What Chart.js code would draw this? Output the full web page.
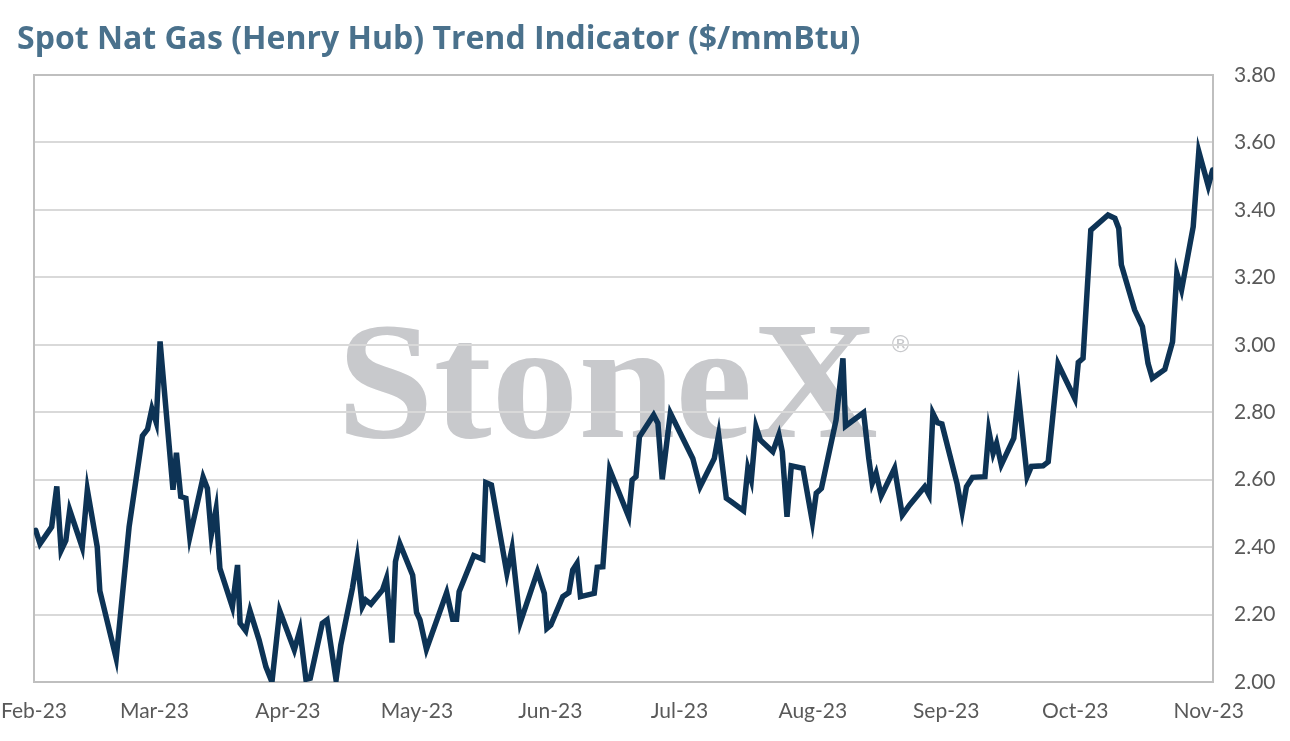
<!DOCTYPE html>
<html>
<head>
    <title>Spot Nat Gas (Henry Hub) Trend Indicator</title>
    <script src="https://cdn.jsdelivr.net/npm/chart.js"></script>
    <style>
        html, body {
            margin: 0;
            padding: 0;
            background-color: #fff;
        }

        #wrap {
            position: relative;
            width: 1290px;
            height: 741px;
        }

        h1 {
            position: absolute;
            left: 17px;
            top: 21px;
            margin: 0;
            font-family: "Open Sans", sans-serif;
            font-weight: bold;
            font-size: 32px;
            line-height: 31px;
            color: #4a718c;
            white-space: nowrap;
        }

        #gasChart {
            position: absolute;
            left: 0;
            top: 0;
        }
    </style>
</head>
<body>
    <div id="wrap">
        <canvas id="gasChart" width="1290" height="741"></canvas>
        <h1>Spot Nat Gas (Henry Hub) Trend Indicator ($/mmBtu)</h1>
    </div>

    <script>
        // days counted from 1 Feb 2023
        var dayOffsets = [
            0.4, 1.4, 4.1, 5.3, 6.3, 7.4, 8.3, 11.2, 12.4, 14.7,
            15.3, 19.1, 22.1, 25.2, 26.4, 27.4, 28.4, 29.3, 32.3, 33.1,
            34.1, 35.3, 36.2, 39.3, 40.3, 41.2, 42.3, 43.2, 46.1, 47.3,
            47.9, 49.2, 50.2, 52.3, 53.9, 55.3, 57.1, 60.5, 61.8, 63.2,
            64.2, 67.0, 68.1, 70.2, 71.3, 74.0, 75.1, 76.3, 77.1, 78.3,
            81.0, 81.9, 83.2, 84.0, 85.0, 88.0, 88.9, 89.7, 91.2, 95.9,
            97.3, 98.2, 98.8, 102.2, 104.3, 105.0, 106.3, 109.9, 111.1, 113.0,
            117.0, 118.6, 119.2, 120.1, 122.9, 124.3, 125.2, 126.2, 127.0, 130.2,
            130.9, 132.2, 133.8, 138.2, 139.0, 139.9, 140.7, 144.0, 145.0, 146.0,
            147.9, 153.1, 154.8, 158.1, 159.1, 160.9, 162.0, 164.9, 165.9, 166.7,
            167.8, 168.8, 171.7, 173.1, 173.9, 175.0, 176.0, 178.7, 180.9, 181.8,
            183.0, 186.4, 188.0, 188.6, 192.8, 194.0, 194.8, 195.7, 196.9, 200.0,
            201.8, 203.5, 207.0, 208.0, 208.9, 210.0, 211.0, 214.5, 215.7, 216.7,
            218.1, 221.0, 221.9, 222.9, 223.7, 224.8, 227.7, 228.8, 230.8, 231.8,
            234.5, 235.7, 238.0, 241.9, 242.7, 243.8, 245.6, 249.6, 251.2, 252.1,
            252.7, 255.8, 257.6, 258.9, 259.9, 262.8, 264.6, 265.6, 266.7, 269.4,
            270.7, 272.9, 273.9
        ];

        var prices = [
            2.45, 2.41, 2.46, 2.58, 2.39, 2.42, 2.51, 2.40, 2.57, 2.40,
            2.27, 2.07, 2.46, 2.73, 2.75, 2.81, 2.77, 3.01, 2.57, 2.68,
            2.55, 2.545, 2.43, 2.607, 2.574, 2.436, 2.512, 2.337, 2.223, 2.347,
            2.174, 2.152, 2.211, 2.125, 2.045, 2.00, 2.211, 2.095, 2.154, 2.008,
            2.011, 2.174, 2.184, 2.006, 2.110, 2.278, 2.365, 2.223, 2.243, 2.231,
            2.273, 2.307, 2.117, 2.357, 2.411, 2.317, 2.206, 2.184, 2.097, 2.265,
            2.186, 2.186, 2.268, 2.375, 2.364, 2.591, 2.584, 2.322, 2.396, 2.176,
            2.327, 2.263, 2.159, 2.169, 2.253, 2.265, 2.332, 2.352, 2.253, 2.263,
            2.340, 2.342, 2.63, 2.490, 2.599, 2.609, 2.727, 2.792, 2.767, 2.601,
            2.797, 2.663, 2.579, 2.663, 2.733, 2.545, 2.535, 2.508, 2.634, 2.599,
            2.757, 2.718, 2.683, 2.733, 2.683, 2.490, 2.641, 2.634, 2.475, 2.560,
            2.574, 2.777, 2.960, 2.759, 2.799, 2.663, 2.589, 2.619, 2.552, 2.634,
            2.495, 2.525, 2.579, 2.555, 2.797, 2.769, 2.765, 2.589, 2.505, 2.579,
            2.607, 2.609, 2.745, 2.678, 2.708, 2.644, 2.723, 2.851, 2.609, 2.639,
            2.641, 2.653, 2.943, 2.840, 2.948, 2.960, 3.340, 3.385, 3.375, 3.345,
            3.237, 3.103, 3.054, 2.945, 2.901, 2.927, 3.009, 3.212, 3.163, 3.350,
            3.573, 3.471, 3.518
        ];

        var monthStarts = [0, 28, 59, 89, 120, 150, 181, 212, 242, 273];
        var monthLabels = ["Feb-23", "Mar-23", "Apr-23", "May-23", "Jun-23", "Jul-23", "Aug-23", "Sep-23", "Oct-23", "Nov-23"];

        var yMin = 2.0;
        var yMax = 3.8;
        var yStep = 0.2;

        var points = dayOffsets.map(function(d, i) {
            return { x: d, y: prices[i] };
        });

        // grey StoneX mark behind the grid
        var watermark = {
            id: "watermark",
            beforeDraw: function(chart) {
                var ctx = chart.ctx;
                ctx.save();
                ctx.fillStyle = "#c8c9cc";
                ctx.textBaseline = "alphabetic";
                ctx.font = "bold 168px 'Liberation Serif', serif";
                ctx.translate(337, 437);
                ctx.scale(1.035, 1);
                ctx.fillText("StoneX", 0, 0);
                ctx.restore();
                ctx.save();
                ctx.fillStyle = "#c8c9cc";
                ctx.font = "23px 'DejaVu Sans', sans-serif";
                ctx.fillText("\u00AE", 889, 352);
                ctx.restore();
            }
        };

        var boxBorder = {
            id: "boxBorder",
            beforeDatasetsDraw: function(chart) {
                var a = chart.chartArea;
                var ctx = chart.ctx;
                ctx.save();
                ctx.strokeStyle = "#bfbfbf";
                ctx.lineWidth = 2;
                ctx.strokeRect(a.left, a.top, a.right - a.left, a.bottom - a.top);
                ctx.restore();
            }
        };

        Chart.defaults.font.family = "Lato, sans-serif";

        var gasChart = new Chart(document.getElementById("gasChart"), {
            type: "line",
            data: {
                datasets: [{
                    label: "Henry Hub",
                    data: points,
                    borderColor: "#0d3355",
                    borderWidth: 5.5,
                    pointRadius: 0,
                    tension: 0,
                    fill: false,
                    borderCapStyle: "round"
                }]
            },
            options: {
                responsive: false,
                animation: false,
                devicePixelRatio: 1,
                layout: {
                    padding: { left: 34, top: 75, right: 0, bottom: 0 }
                },
                plugins: {
                    legend: { display: false },
                    tooltip: { enabled: false }
                },
                scales: {
                    x: {
                        type: "linear",
                        min: 0,
                        max: 274,
                        grid: { display: false, drawTicks: false },
                        border: { display: false },
                        afterBuildTicks: function(scale) {
                            scale.ticks = monthStarts.map(function(v) { return { value: v }; });
                        },
                        afterFit: function(scale) {
                            scale.height = 59;
                            scale.paddingLeft = 0;
                            scale.paddingRight = 0;
                        },
                        ticks: {
                            autoSkip: false,
                            maxRotation: 0,
                            padding: 17,
                            color: "#595959",
                            font: { size: 21 },
                            callback: function(value) {
                                var i = monthStarts.indexOf(value);
                                return i >= 0 ? monthLabels[i] : "";
                            }
                        }
                    },
                    y: {
                        position: "right",
                        min: yMin,
                        max: yMax,
                        grid: { color: "#d9d9d9", lineWidth: 2, drawTicks: false },
                        border: { display: false },
                        afterFit: function(scale) {
                            scale.width = 77;
                            scale.paddingTop = 0;
                            scale.paddingBottom = 0;
                        },
                        ticks: {
                            stepSize: yStep,
                            padding: 21,
                            color: "#595959",
                            font: { size: 21 },
                            callback: function(value) {
                                return value.toFixed(2);
                            }
                        }
                    }
                }
            },
            plugins: [watermark, boxBorder]
        });
    </script>
</body>
</html>
